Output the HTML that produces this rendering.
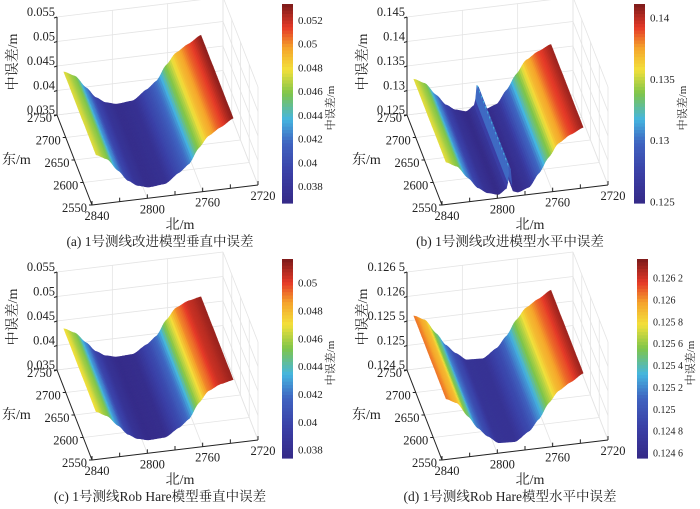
<!DOCTYPE html>
<html><head><meta charset="utf-8">
<style>
html,body{margin:0;padding:0;background:#fff;}
svg{display:block;}
text{font-family:"Liberation Serif","Noto Serif CJK SC",serif;fill:#222;}
</style></head>
<body>
<svg id="fig" width="700" height="509" viewBox="0 0 700 509" xmlns="http://www.w3.org/2000/svg"></svg>
<script>
// ---- data ----
const northTicks = [2840, 2800, 2760, 2720];
const eastTicks = [2550, 2600, 2650, 2700, 2750];
const northA = [2836,2828,2820,2813,2806,2798,2786,2776,2769,2762,2755,2746,2737];
const valuesA = [0.0475,0.046,0.0425,0.0395,0.0378,0.037,0.0374,0.040,0.042,0.046,0.049,0.051,0.053];
const northB = [2836,2828,2820,2813,2806,2798,2792,2790,2788,2784,2776,2769,2762,2755,2746,2737];
const valuesB = [0.1355,0.134,0.1305,0.1275,0.1258,0.125,0.1265,0.133,0.1255,0.125,0.126,0.1295,0.1335,0.137,0.139,0.1405];
const northC = [2836,2828,2820,2813,2806,2798,2786,2776,2769,2762,2755,2746,2737];
const valuesC = [0.047,0.0455,0.0425,0.0398,0.0383,0.0376,0.0378,0.040,0.042,0.046,0.049,0.0505,0.0512];
const northD = [2836,2828,2820,2813,2806,2798,2786,2776,2769,2762,2755,2746,2737];
const valuesD = [0.12605,0.1259,0.1255,0.12515,0.1249,0.12468,0.12466,0.1249,0.1252,0.1256,0.1259,0.1261,0.1263];
const zTicksA = ["0.035","0.04","0.045","0.05","0.055"], zValsA=[0.035,0.04,0.045,0.05,0.055];
const zTicksB = ["0.125","0.13","0.135","0.14","0.145"], zValsB=[0.125,0.13,0.135,0.14,0.145];
const zTicksD = ["0.124 5","0.125","0.125 5","0.126","0.126 5"], zValsD=[0.1245,0.125,0.1255,0.126,0.1265];
const cbTicksA = ["0.038","0.04","0.042","0.044","0.046","0.048","0.05","0.052"], cbValsA=[0.038,0.04,0.042,0.044,0.046,0.048,0.05,0.052];
const cbTicksB = ["0.125","0.13","0.135","0.14"], cbValsB=[0.125,0.13,0.135,0.14];
const cbTicksC = ["0.038","0.04","0.042","0.044","0.046","0.048","0.05"], cbValsC=[0.038,0.04,0.042,0.044,0.046,0.048,0.05];
const cbTicksD = ["0.124 6","0.124 8","0.125","0.125 2","0.125 4","0.125 6","0.125 8","0.126","0.126 2"], cbValsD=[0.1246,0.1248,0.125,0.1252,0.1254,0.1256,0.1258,0.126,0.1262];

const panels = [
 {id:'a',ox:0,oy:0,north:northA,vals:valuesA,zt:zTicksA,zv:zValsA,cbt:cbTicksA,cbv:cbValsA,cbMin:0.03657,cbMax:0.05335,cbX:282,fs:11,caption:"(a) 1号测线改进模型垂直中误差"},
 {id:'b',ox:350,oy:0,north:northB,vals:valuesB,zt:zTicksB,zv:zValsB,cbt:cbTicksB,cbv:cbValsB,cbMin:0.12488,cbMax:0.1411,cbX:284,fs:11,caption:"(b) 1号测线改进模型水平中误差"},
 {id:'c',ox:0,oy:255,north:northC,vals:valuesC,zt:zTicksA,zv:zValsA,cbt:cbTicksC,cbv:cbValsC,cbMin:0.0374,cbMax:0.0517,cbX:282,fs:11,caption:"(c) 1号测线Rob Hare模型垂直中误差"},
 {id:'d',ox:350,oy:255,north:northD,vals:valuesD,zt:zTicksD,zv:zValsD,cbt:cbTicksD,cbv:cbValsD,cbMin:0.12455,cbMax:0.12637,cbX:287,fs:10,caption:"(d) 1号测线Rob Hare模型水平中误差"}
];

const stops=[[0,[53,42,135]],[0.15,[58,63,166]],[0.3,[63,99,192]],[0.42,[69,181,224]],[0.55,[127,197,74]],[0.67,[243,224,59]],[0.78,[245,163,43]],[0.88,[229,58,40]],[1,[123,26,26]]];
function cmap(t){t=Math.max(0,Math.min(1,t));for(let i=1;i<stops.length;i++){if(t<=stops[i][0]){const a=stops[i-1],b=stops[i];const f=(t-a[0])/(b[0]-a[0]);const c=a[1].map((x,k)=>Math.round(x+(b[1][k]-x)*f));return `rgb(${c[0]},${c[1]},${c[2]})`;}}return 'rgb(123,26,26)';}

const NS='http://www.w3.org/2000/svg';
const svg=document.getElementById('fig');
function mk(tag,attrs,parent){const e=document.createElementNS(NS,tag);for(const k in attrs)e.setAttribute(k,attrs[k]);(parent||svg).appendChild(e);return e;}
function interp(xs,ys,x){for(let i=1;i<xs.length;i++){if((xs[i-1]-x)*(xs[i]-x)<=0){const f=(x-xs[i-1])/(xs[i]-xs[i-1]);const s=f*f*(3-2*f);const ff=0.5*f+0.5*s;return ys[i-1]+(ys[i]-ys[i-1])*ff;}}return x>xs[0]?ys[0]:ys[ys.length-1];}

panels.forEach(p=>{
 const g=mk('g',{transform:`translate(${p.ox},${p.oy})`});
 
 
 const zMin=p.zv[0],zMax=p.zv[p.zv.length-1];
 const proj=(n,e,z,hs)=>{const u=(2840-n)/120,v=(e-2550)/200,w=(z-zMin)/(zMax-zMin)*(hs||1);return [92+166*u-35*v,205-20*u-90*v-98*w];};
 // grid
 const grid=mk('g',{stroke:'#e4e4e4','stroke-width':0.8,fill:'none'},g);
 
 
 p.zv.forEach(z=>{const a=proj(2840,2750,z),b=proj(2720,2750,z);mk('line',{x1:a[0],y1:a[1],x2:b[0],y2:b[1]},grid);const c=proj(2720,2550,z);mk('line',{x1:b[0],y1:b[1],x2:c[0],y2:c[1]},grid);});
 northTicks.forEach(n=>{const a=proj(n,2750,zMin),b=proj(n,2750,zMax);mk('line',{x1:a[0],y1:a[1],x2:b[0],y2:b[1]},grid);});
 eastTicks.forEach(e=>{const a=proj(2720,e,zMin),b=proj(2720,e,zMax);mk('line',{x1:a[0],y1:a[1],x2:b[0],y2:b[1]},grid);const c=proj(2840,e,zMin);mk('line',{x1:c[0],y1:c[1],x2:a[0],y2:a[1]},grid);});
 northTicks.forEach(n=>{const a=proj(n,2550,zMin),b=proj(n,2750,zMin);mk('line',{x1:a[0],y1:a[1],x2:b[0],y2:b[1]},grid);});
 // surface
 const surf=mk('g',{},g);
 
 
 const n0=p.north[0],n1=p.north[p.north.length-1];
 const NU=100,NV=16,hs=0.75;
 for(let j=NV-1;j>=0;j--){
  const e0=2558+184*j/NV,e1=2558+184*(j+1)/NV;
  for(let i=0;i<NU;i++){
   const na=n0+(n1-n0)*i/NU,nb=n0+(n1-n0)*(i+1)/NU;
   const za=interp(p.north,p.vals,na),zb=interp(p.north,p.vals,nb);
   const pts=[proj(na,e0,za,hs),proj(nb,e0,zb,hs),proj(nb,e1,zb,hs),proj(na,e1,za,hs)];
   const col=cmap(((za+zb)/2-p.cbMin)/(p.cbMax-p.cbMin));
   mk('polygon',{points:pts.map(q=>q[0].toFixed(1)+','+q[1].toFixed(1)).join(' '),fill:col,stroke:col,'stroke-width':0.6},surf);
  }
 }
 // axes
 const ax=mk('g',{stroke:'#222','stroke-width':1,fill:'none'},g);
 
 
 let a=proj(2840,2750,zMin),b=proj(2840,2750,zMax);
 mk('line',{x1:a[0],y1:a[1],x2:b[0],y2:b[1]},ax);
 b=proj(2840,2550,zMin);mk('line',{x1:a[0],y1:a[1],x2:b[0],y2:b[1]},ax);
 a=proj(2720,2550,zMin);mk('line',{x1:a[0],y1:a[1],x2:b[0],y2:b[1]},ax);
 p.zv.forEach((z,k)=>{const q=proj(2840,2750,z);mk('line',{x1:q[0],y1:q[1],x2:q[0]-3,y2:q[1]+1},ax);
  const t=mk('text',{x:q[0]-2,y:q[1]-1,'text-anchor':'end','font-size':12.5},g);t.textContent=p.zt[k];
  });
 eastTicks.forEach(e=>{const q=proj(2840,e,zMin);mk('line',{x1:q[0],y1:q[1],x2:q[0]-3,y2:q[1]},ax);
  const t=mk('text',{x:q[0]-5,y:q[1]+7,'text-anchor':'end','font-size':12.5},g);t.textContent=e;
  });
 northTicks.forEach(n=>{const q=proj(n,2550,zMin);mk('line',{x1:q[0],y1:q[1],x2:q[0],y2:q[1]-4},ax);
  const t=mk('text',{x:q[0]+5,y:q[1]+15,'text-anchor':'middle','font-size':12.5},g);t.textContent=n;
  });
 [2820,2780,2740].forEach(n=>{const q=proj(n,2550,zMin);mk('line',{x1:q[0],y1:q[1],x2:q[0],y2:q[1]-4},ax);});
 let t=mk('text',{x:0,y:0,'text-anchor':'middle','font-size':14,transform:'translate(17,62) rotate(-90)'},g);t.textContent='中误差/m';
 
 t=mk('text',{x:2,y:164,'font-size':14},g);t.textContent='东/m';
 
 t=mk('text',{x:180,y:229,'text-anchor':'middle','font-size':14},g);t.textContent='北/m';
 
 // colorbar
 const cb=mk('g',{},g);
 
 
 const cy0=4,cy1=203,NB=60;
 for(let k=0;k<NB;k++){mk('rect',{x:p.cbX,y:cy0+(cy1-cy0)*k/NB,width:11,height:(cy1-cy0)/NB+0.6,fill:cmap(1-(k+0.5)/NB)},cb);}
 p.cbv.forEach((v,k)=>{const y=cy1-(v-p.cbMin)/(p.cbMax-p.cbMin)*(cy1-cy0);
  const tt=mk('text',{x:p.cbX+16,y:y+4,'font-size':p.fs},cb);tt.textContent=p.cbt[k];
  });
 t=mk('text',{x:0,y:0,'text-anchor':'middle','font-size':11,transform:`translate(${p.cbX+(p.id==='d'?57:52)},108) rotate(-90)`},g);t.textContent='中误差/m';
 
 t=mk('text',{x:160,y:246,'text-anchor':'middle','font-size':13.5},g);t.textContent=p.caption;
 
});
</script>
</body></html>
